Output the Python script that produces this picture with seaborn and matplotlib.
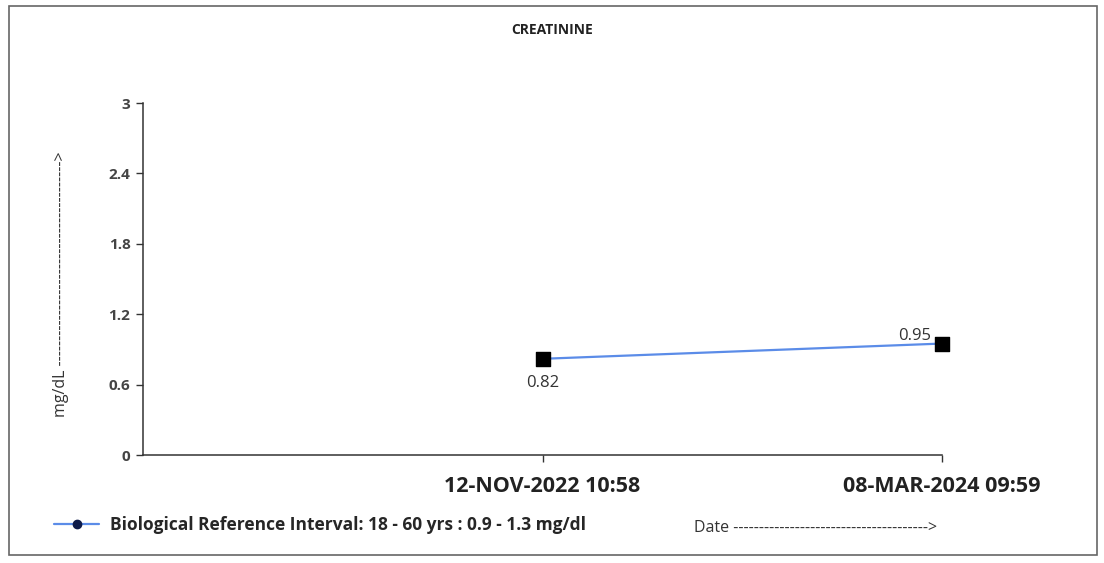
import matplotlib
matplotlib.use("Agg")
import matplotlib.pyplot as plt
import seaborn as sns
import pandas as pd
from matplotlib.lines import Line2D
from matplotlib.patches import Rectangle

sns.set_style("white")
plt.rcParams["font.family"] = ["Open Sans", "DejaVu Sans"]

# data
dates = ["12-NOV-2022 10:58", "08-MAR-2024 09:59"]
values = [0.82, 0.95]
positions = [1, 2]
y_ticks = [0, 0.6, 1.2, 1.8, 2.4, 3]
y_tick_labels = ["0", "0.6", "1.2", "1.8", "2.4", "3"]
title = "CREATININE"
legend_label = "Biological Reference Interval: 18 - 60 yrs : 0.9 - 1.3 mg/dl"

df = pd.DataFrame({"pos": positions, "value": values, "date": dates})

fig = plt.figure(figsize=(11.04, 5.63), dpi=100)
ax = fig.add_axes([0.1295, 0.1918, 0.7238, 0.6252])

sns.lineplot(data=df, x="pos", y="value", color="#5b8ce8", linewidth=1.6, ax=ax)
ax.scatter(df["pos"], df["value"], marker="s", s=100, color="black", zorder=5, clip_on=False)

# point labels
ax.annotate("0.82", (positions[0], values[0]), xytext=(0, -12), textcoords="offset points",
            ha="center", va="top", fontsize=12, color="#333333")
ax.annotate("0.95", (positions[1], values[1]), xytext=(-8, 0), textcoords="offset points",
            ha="right", va="bottom", fontsize=12, color="#333333")

ax.set_xlim(0, 2)
ax.set_ylim(0, 3)
ax.set_xticks(positions)
ax.set_xticklabels(dates, fontsize=15.5, fontweight="bold", color="#222222")
ax.set_yticks(y_ticks)
ax.set_yticklabels(y_tick_labels, fontsize=11, fontweight="bold", color="#444444")
ax.tick_params(axis="both", bottom=True, left=True, length=5, width=1, color="#333333",
               direction="out", pad=4)
ax.tick_params(axis="x", pad=10)
sns.despine(ax=ax, top=True, right=True)
for s in ["left", "bottom"]:
    ax.spines[s].set_color("#333333")
    ax.spines[s].set_linewidth(1.1)
ax.set_xlabel("")
ax.set_ylabel("")

fig.text(0.5, 0.947, title, ha="center", va="center", fontsize=10, fontweight="bold", color="#222222")
fig.text(0.055, 0.495, "mg/dL " + "-" * 40 + ">", rotation=90, ha="center", va="center",
         fontsize=11.5, color="#333333")
fig.text(0.629, 0.063, "Date " + "-" * 38 + ">", ha="left", va="center", fontsize=11.5, color="#333333")

handle = Line2D([0], [0], color="#5b8ce8", linewidth=1.6, marker="o", markersize=6,
                markerfacecolor="#0d1b4a", markeredgecolor="#0d1b4a")
fig.legend([handle], [legend_label], loc="center left", bbox_to_anchor=(0.035, 0.068),
           frameon=False, handlelength=2.6, handletextpad=0.6,
           prop={"weight": "bold", "size": 12.5})

fig.patches.append(Rectangle((0.008, 0.014), 0.986, 0.976, transform=fig.transFigure,
                             fill=False, edgecolor="#666666", linewidth=1.2))

fig.savefig("out.png", dpi=100)
